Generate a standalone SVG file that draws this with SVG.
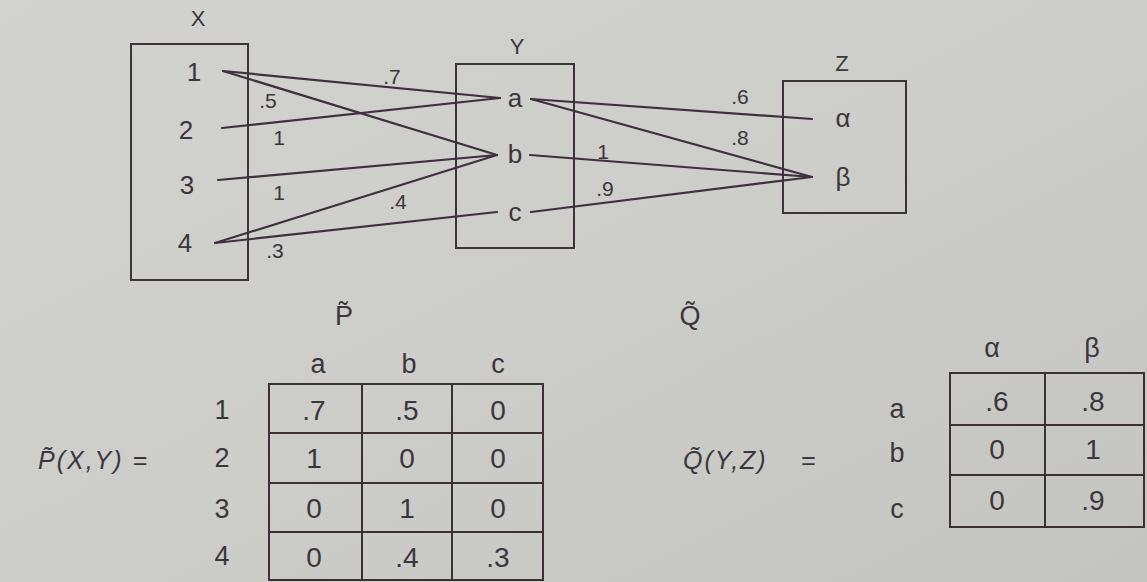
<svg xmlns="http://www.w3.org/2000/svg" width="1147" height="582" viewBox="0 0 1147 582">
<defs>
<linearGradient id="bg" x1="0" y1="0" x2="1" y2="1">
<stop offset="0" stop-color="#d2d2ce"/>
<stop offset="0.5" stop-color="#cdcdc9"/>
<stop offset="1" stop-color="#c4c4c0"/>
</linearGradient>
</defs>
<style>
.box{fill:none;stroke:#3d333b;stroke-width:2}
.edge{fill:none;stroke:#3f2f3f;stroke-width:2.2;stroke-linecap:round}
text{font-family:"Liberation Sans","DejaVu Sans",sans-serif;fill:#3b363c}
.set{font-size:22px;text-anchor:middle}
.el{font-size:26px;text-anchor:middle;dominant-baseline:central}
.w{font-size:21px;text-anchor:middle}
.hd{font-size:27px;text-anchor:middle;dominant-baseline:central}
.cell{font-size:28px;text-anchor:middle;dominant-baseline:central}
.eq{font-size:25px;font-style:italic;dominant-baseline:central;letter-spacing:2px}
.wide{word-spacing:24px}
.grid{fill:none;stroke:#3a3036;stroke-width:2}
</style>
<rect width="1147" height="582" fill="url(#bg)"/>

<g id="set-X">
<text class="set" x="198" y="26">X</text>
<rect class="box" x="131" y="44" width="117" height="236"/>
<text class="el" x="194" y="72">1</text>
<text class="el" x="186" y="130">2</text>
<text class="el" x="187" y="185">3</text>
<text class="el" x="185" y="243">4</text>
</g>

<g id="set-Y">
<text class="set" x="517" y="54">Y</text>
<rect class="box" x="456" y="64" width="118" height="184"/>
<text class="el" x="515" y="98">a</text>
<text class="el" x="515" y="154">b</text>
<text class="el" x="515" y="212">c</text>
</g>

<g id="set-Z">
<text class="set" x="842" y="71">Z</text>
<rect class="box" x="783" y="81" width="123" height="132"/>
<text class="el" x="843" y="118">α</text>
<text class="el" x="843" y="177">β</text>
</g>

<g id="connectors">
<line class="edge" x1="223" y1="71" x2="500" y2="98"/>
<line class="edge" x1="223" y1="71" x2="497" y2="155"/>
<line class="edge" x1="222" y1="128" x2="500" y2="98"/>
<line class="edge" x1="218" y1="180" x2="497" y2="155"/>
<line class="edge" x1="215" y1="243" x2="497" y2="155"/>
<line class="edge" x1="215" y1="243" x2="497" y2="212"/>
<line class="edge" x1="531" y1="99" x2="812" y2="119"/>
<line class="edge" x1="531" y1="99" x2="812" y2="177"/>
<line class="edge" x1="530" y1="155" x2="812" y2="177"/>
<line class="edge" x1="531" y1="212" x2="812" y2="177"/>
<text class="w" x="392" y="84">.7</text>
<text class="w" x="268" y="108">.5</text>
<text class="w" x="279" y="145">1</text>
<text class="w" x="279" y="200">1</text>
<text class="w" x="398" y="209">.4</text>
<text class="w" x="275" y="258">.3</text>
<text class="w" x="740" y="104">.6</text>
<text class="w" x="740" y="145">.8</text>
<text class="w" x="603" y="159">1</text>
<text class="w" x="605" y="196">.9</text>
</g>

<g id="matrix-P">
<text class="hd" x="344" y="316">P̃</text>
<text class="eq" x="38" y="460">P̃(X,Y) =</text>
<text class="hd" x="318" y="364">a</text>
<text class="hd" x="409" y="364">b</text>
<text class="hd" x="498" y="364">c</text>
<text class="hd" x="222" y="410">1</text>
<text class="hd" x="222" y="458">2</text>
<text class="hd" x="222" y="509">3</text>
<text class="hd" x="222" y="556">4</text>
<rect class="grid" x="269" y="384" width="274" height="196"/>
<line class="grid" x1="269" y1="433" x2="543" y2="433"/>
<line class="grid" x1="269" y1="483" x2="543" y2="483"/>
<line class="grid" x1="269" y1="532" x2="543" y2="532"/>
<line class="grid" x1="362" y1="384" x2="362" y2="580"/>
<line class="grid" x1="452" y1="384" x2="452" y2="580"/>
<text class="cell" x="314" y="410">.7</text>
<text class="cell" x="407" y="410">.5</text>
<text class="cell" x="498" y="410">0</text>
<text class="cell" x="314" y="458">1</text>
<text class="cell" x="407" y="458">0</text>
<text class="cell" x="498" y="458">0</text>
<text class="cell" x="314" y="508">0</text>
<text class="cell" x="407" y="508">1</text>
<text class="cell" x="498" y="508">0</text>
<text class="cell" x="314" y="557">0</text>
<text class="cell" x="407" y="557">.4</text>
<text class="cell" x="498" y="557">.3</text>
</g>

<g id="matrix-Q">
<text class="hd" x="690" y="316">Q̃</text>
<text class="eq wide" x="683" y="460">Q̃(Y,Z) =</text>
<text class="hd" x="992" y="348">α</text>
<text class="hd" x="1092" y="348">β</text>
<text class="hd" x="897" y="409">a</text>
<text class="hd" x="897" y="453">b</text>
<text class="hd" x="897" y="509">c</text>
<rect class="grid" x="950" y="373" width="194" height="154"/>
<line class="grid" x1="950" y1="425" x2="1144" y2="425"/>
<line class="grid" x1="950" y1="475" x2="1144" y2="475"/>
<line class="grid" x1="1045" y1="373" x2="1045" y2="527"/>
<text class="cell" x="997" y="401">.6</text>
<text class="cell" x="1093" y="401">.8</text>
<text class="cell" x="997" y="449">0</text>
<text class="cell" x="1093" y="449">1</text>
<text class="cell" x="997" y="500">0</text>
<text class="cell" x="1093" y="500">.9</text>
</g>
</svg>
